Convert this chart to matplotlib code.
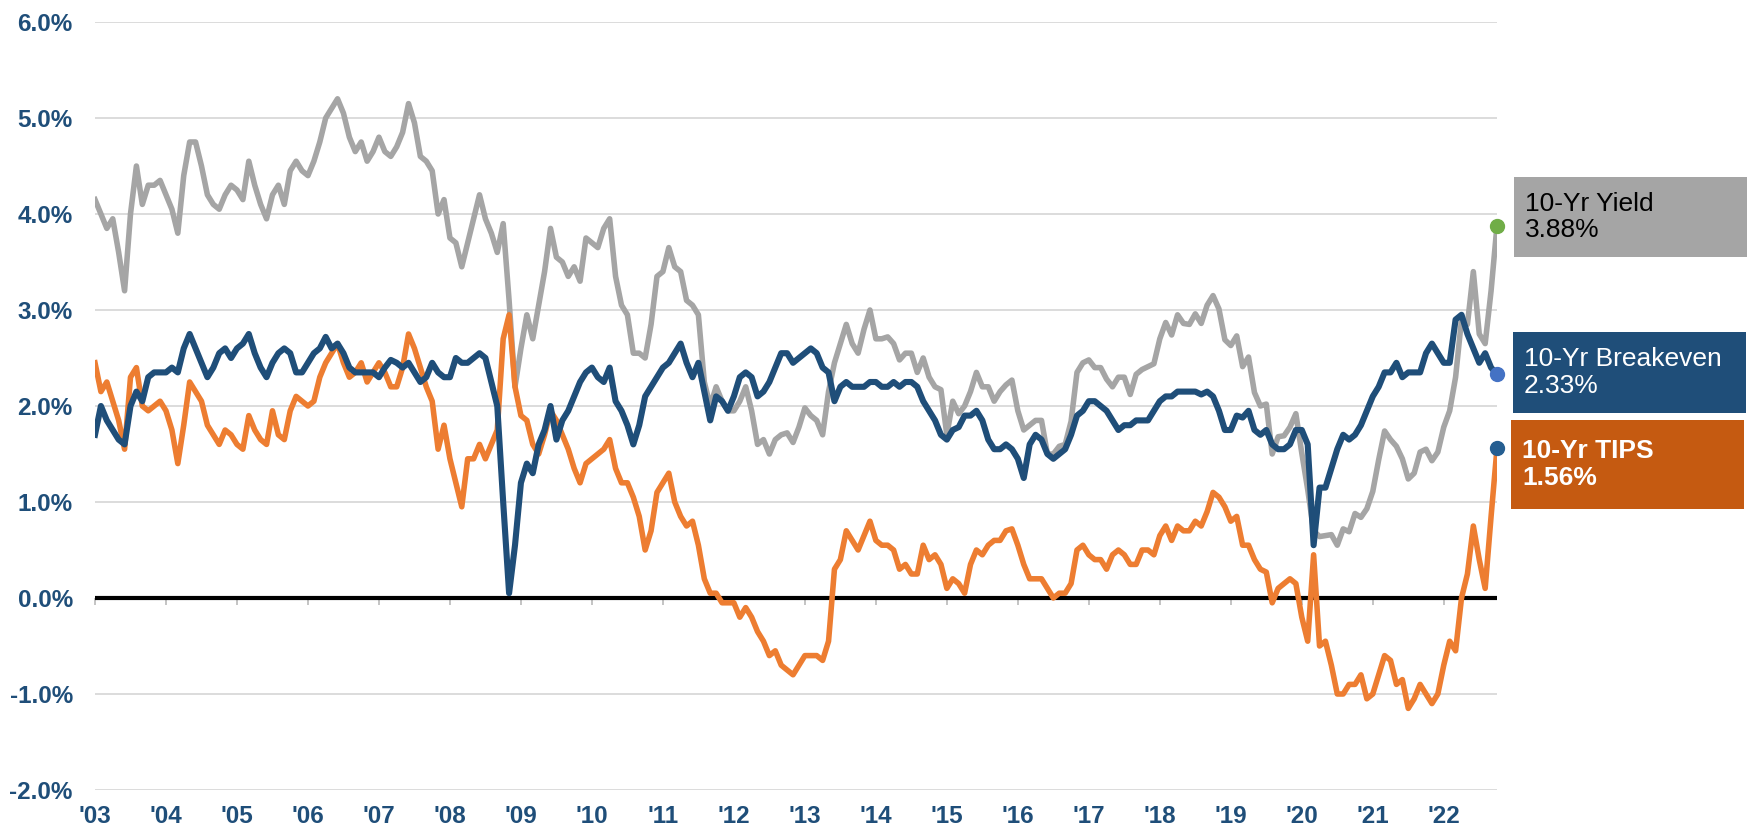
import numpy as np
import matplotlib
matplotlib.use("Agg")
import matplotlib.pyplot as plt
from matplotlib.patches import Rectangle

plt.rcParams['font.family'] = ['Liberation Sans', 'DejaVu Sans']

# monthly readings (%), Jan 2003 .. Oct 2022
start_year = 2003
years = list(range(2003, 2023))
year_labels = ["'%02d" % (y % 100) for y in years]
y_ticks = list(range(-2, 7))

yield_10y = [
    4.15, 4.00, 3.85, 3.95, 3.60, 3.20, 4.00, 4.50, 4.10, 4.30, 4.30, 4.35,  # 2003
    4.20, 4.05, 3.80, 4.40, 4.75, 4.75, 4.50, 4.20, 4.10, 4.05, 4.20, 4.30,  # 2004
    4.25, 4.15, 4.55, 4.30, 4.10, 3.95, 4.20, 4.30, 4.10, 4.45, 4.55, 4.45,  # 2005
    4.40, 4.55, 4.75, 5.00, 5.10, 5.20, 5.05, 4.80, 4.65, 4.75, 4.55, 4.65,  # 2006
    4.80, 4.65, 4.60, 4.70, 4.85, 5.15, 4.95, 4.60, 4.55, 4.45, 4.00, 4.15,  # 2007
    3.75, 3.70, 3.45, 3.70, 3.95, 4.20, 3.95, 3.80, 3.60, 3.90, 3.10, 2.20,  # 2008
    2.60, 2.95, 2.70, 3.05, 3.40, 3.85, 3.55, 3.50, 3.35, 3.45, 3.30, 3.75,  # 2009
    3.70, 3.65, 3.85, 3.95, 3.35, 3.05, 2.95, 2.55, 2.55, 2.50, 2.85, 3.35,  # 2010
    3.40, 3.65, 3.45, 3.40, 3.10, 3.05, 2.95, 2.25, 2.00, 2.20, 2.05, 1.95,  # 2011
    1.95, 2.05, 2.20, 1.95, 1.60, 1.65, 1.50, 1.65, 1.70, 1.72, 1.62, 1.78,  # 2012
    1.98, 1.90, 1.85, 1.70, 2.15, 2.45, 2.65, 2.85, 2.65, 2.55, 2.80, 3.00,  # 2013
    2.70, 2.70, 2.72, 2.65, 2.48, 2.55, 2.55, 2.35, 2.50, 2.30, 2.20, 2.17,  # 2014
    1.70, 2.05, 1.92, 2.00, 2.15, 2.35, 2.20, 2.20, 2.05, 2.15, 2.22, 2.27,  # 2015
    1.95, 1.75, 1.80, 1.85, 1.85, 1.50, 1.50, 1.58, 1.60, 1.84, 2.35, 2.45,  # 2016
    2.48, 2.40, 2.40, 2.28, 2.20, 2.30, 2.30, 2.12, 2.33, 2.38, 2.41, 2.44,  # 2017
    2.70, 2.87, 2.74, 2.95, 2.86, 2.85, 2.96, 2.86, 3.05, 3.15, 3.01, 2.69,  # 2018
    2.63, 2.73, 2.41, 2.51, 2.14, 2.00, 2.02, 1.50, 1.68, 1.69, 1.78, 1.92,  # 2019
    1.51, 1.13, 0.70, 0.64, 0.65, 0.66, 0.55, 0.72, 0.69, 0.88, 0.84, 0.93,  # 2020
    1.11, 1.44, 1.74, 1.65, 1.58, 1.45, 1.24, 1.30, 1.52, 1.55, 1.43, 1.52,  # 2021
    1.78, 1.95, 2.30, 2.90, 2.85, 3.40, 2.75, 2.65, 3.20, 3.88,              # 2022
]

breakeven_10y = [
    1.70, 2.00, 1.85, 1.75, 1.65, 1.60, 2.00, 2.15, 2.05, 2.30, 2.35, 2.35,
    2.35, 2.40, 2.35, 2.60, 2.75, 2.60, 2.45, 2.30, 2.40, 2.55, 2.60, 2.50,
    2.60, 2.65, 2.75, 2.55, 2.40, 2.30, 2.45, 2.55, 2.60, 2.55, 2.35, 2.35,
    2.45, 2.55, 2.60, 2.72, 2.60, 2.65, 2.55, 2.40, 2.35, 2.35, 2.35, 2.35,
    2.30, 2.40, 2.48, 2.45, 2.40, 2.45, 2.35, 2.25, 2.30, 2.45, 2.35, 2.30,
    2.30, 2.50, 2.45, 2.45, 2.50, 2.55, 2.50, 2.25, 2.00, 1.00, 0.05, 0.55,
    1.20, 1.40, 1.30, 1.60, 1.75, 2.00, 1.65, 1.85, 1.95, 2.10, 2.25, 2.35,
    2.40, 2.30, 2.25, 2.40, 2.05, 1.95, 1.80, 1.60, 1.80, 2.10, 2.20, 2.30,
    2.40, 2.45, 2.55, 2.65, 2.45, 2.30, 2.45, 2.15, 1.85, 2.10, 2.05, 1.95,
    2.10, 2.30, 2.35, 2.30, 2.10, 2.15, 2.25, 2.40, 2.55, 2.55, 2.45, 2.50,
    2.55, 2.60, 2.55, 2.40, 2.35, 2.05, 2.20, 2.25, 2.20, 2.20, 2.20, 2.25,
    2.25, 2.20, 2.20, 2.25, 2.20, 2.25, 2.25, 2.20, 2.05, 1.95, 1.85, 1.70,
    1.65, 1.75, 1.78, 1.90, 1.90, 1.95, 1.85, 1.65, 1.55, 1.55, 1.60, 1.55,
    1.45, 1.25, 1.60, 1.70, 1.65, 1.50, 1.45, 1.50, 1.55, 1.70, 1.90, 1.95,
    2.05, 2.05, 2.00, 1.95, 1.85, 1.75, 1.80, 1.80, 1.85, 1.85, 1.85, 1.95,
    2.05, 2.10, 2.10, 2.15, 2.15, 2.15, 2.15, 2.12, 2.15, 2.10, 1.95, 1.75,
    1.75, 1.90, 1.88, 1.95, 1.75, 1.70, 1.75, 1.60, 1.55, 1.55, 1.60, 1.75,
    1.75, 1.60, 0.55, 1.15, 1.15, 1.35, 1.55, 1.70, 1.65, 1.70, 1.80, 1.95,
    2.10, 2.20, 2.35, 2.35, 2.45, 2.30, 2.35, 2.35, 2.35, 2.55, 2.65, 2.55,
    2.45, 2.45, 2.90, 2.95, 2.75, 2.60, 2.45, 2.55, 2.40, 2.33,
]

tips_10y = [
    2.45, 2.15, 2.25, 2.05, 1.85, 1.55, 2.30, 2.40, 2.00, 1.95, 2.00, 2.05,
    1.95, 1.75, 1.40, 1.80, 2.25, 2.15, 2.05, 1.80, 1.70, 1.60, 1.75, 1.70,
    1.60, 1.55, 1.90, 1.75, 1.65, 1.60, 1.95, 1.70, 1.65, 1.95, 2.10, 2.05,
    2.00, 2.05, 2.30, 2.45, 2.55, 2.65, 2.45, 2.30, 2.35, 2.45, 2.25, 2.35,
    2.45, 2.35, 2.20, 2.20, 2.40, 2.75, 2.60, 2.40, 2.20, 2.05, 1.55, 1.80,
    1.45, 1.20, 0.95, 1.45, 1.45, 1.60, 1.45, 1.60, 1.75, 2.70, 2.95, 2.20,
    1.90, 1.85, 1.60, 1.50, 1.70, 1.95, 1.85, 1.70, 1.55, 1.35, 1.20, 1.40,
    1.45, 1.50, 1.55, 1.65, 1.35, 1.20, 1.20, 1.05, 0.85, 0.50, 0.70, 1.10,
    1.20, 1.30, 1.00, 0.85, 0.75, 0.80, 0.55, 0.20, 0.05, 0.05, -0.05, -0.05,
    -0.05, -0.20, -0.10, -0.20, -0.35, -0.45, -0.60, -0.55, -0.70, -0.75, -0.80, -0.70,
    -0.60, -0.60, -0.60, -0.65, -0.45, 0.30, 0.40, 0.70, 0.60, 0.50, 0.65, 0.80,
    0.60, 0.55, 0.55, 0.50, 0.30, 0.35, 0.25, 0.25, 0.55, 0.40, 0.45, 0.35,
    0.10, 0.20, 0.15, 0.05, 0.35, 0.50, 0.45, 0.55, 0.60, 0.60, 0.70, 0.72,
    0.55, 0.35, 0.20, 0.20, 0.20, 0.10, 0.00, 0.05, 0.05, 0.15, 0.50, 0.55,
    0.45, 0.40, 0.40, 0.30, 0.45, 0.50, 0.45, 0.35, 0.35, 0.50, 0.50, 0.45,
    0.65, 0.75, 0.60, 0.75, 0.70, 0.70, 0.80, 0.75, 0.90, 1.10, 1.05, 0.95,
    0.80, 0.85, 0.55, 0.55, 0.40, 0.30, 0.27, -0.05, 0.10, 0.15, 0.20, 0.15,
    -0.20, -0.45, 0.45, -0.50, -0.45, -0.70, -1.00, -1.00, -0.90, -0.90, -0.80, -1.05,
    -1.00, -0.80, -0.60, -0.65, -0.90, -0.85, -1.15, -1.05, -0.90, -1.00, -1.10, -1.00,
    -0.70, -0.45, -0.55, 0.00, 0.25, 0.75, 0.40, 0.10, 0.85, 1.56,
]

GRAY = '#A5A5A5'
NAVY = '#1F4E79'
ORANGE = '#ED7D31'
BOX_ORANGE = '#C55A11'

t = start_year + np.arange(len(yield_10y)) / 12.0

W, H = 1752, 831
fig = plt.figure(figsize=(W / 100, H / 100), dpi=100)
ax = fig.add_axes([95 / W, 1 - 790 / H, 1402 / W, 768 / H])

ax.plot(t, yield_10y, color=GRAY, lw=4.0, zorder=2.0, solid_joinstyle='round')
ax.plot(t, tips_10y, color=ORANGE, lw=4.0, zorder=2.1, solid_joinstyle='round')
ax.plot(t, breakeven_10y, color=NAVY, lw=4.4, zorder=2.2, solid_joinstyle='round')

# end-point dots
ax.plot(t[-1], yield_10y[-1], 'o', color='#70AD47', ms=10, zorder=5, clip_on=False)
ax.plot(t[-1], breakeven_10y[-1], 'o', color='#4472C4', ms=10, zorder=5, clip_on=False)
ax.plot(t[-1], tips_10y[-1], 'o', color='#255E91', ms=10, zorder=5, clip_on=False)

ax.axhline(0, color='black', lw=3, zorder=1.6)

ax.set_xlim(start_year, t[-1])
ax.set_ylim(y_ticks[0], y_ticks[-1])
for s in ax.spines.values():
    s.set_visible(False)

ax.set_yticks(y_ticks, labels=['%.1f%%' % v for v in y_ticks],
              fontsize=17.5, fontweight='bold', color=NAVY)
ax.tick_params(axis='y', length=0, pad=16)
ax.grid(axis='y', color='#D9D9D9', lw=1.3)
ax.set_axisbelow(True)

ax.set_xticks(years, labels=year_labels, fontsize=17.5, fontweight='bold', color=NAVY)
ax.tick_params(axis='x', length=0, pad=11)

# small year ticks hanging off the zero line
zero_pos = (0 - y_ticks[0]) / (y_ticks[-1] - y_ticks[0])
sec = ax.secondary_xaxis(zero_pos)
sec.set_xticks(years)
sec.tick_params(length=5, width=1.3, color='#BFBFBF', labelbottom=False, labeltop=False)
for s in sec.spines.values():
    s.set_visible(False)

# value boxes on the right
boxes = [
    (177, 257, 1514, GRAY, 'black', 'normal', '10-Yr Yield', yield_10y[-1]),
    (332, 413, 1513, NAVY, 'white', 'normal', '10-Yr Breakeven', breakeven_10y[-1]),
    (420, 509, 1511, BOX_ORANGE, 'white', 'bold', '10-Yr TIPS', tips_10y[-1]),
]
for top, bot, left, fc, tc, fw, name, val in boxes:
    fig.add_artist(Rectangle((left / W, 1 - bot / H), 233 / W, (bot - top) / H,
                             transform=fig.transFigure, facecolor=fc, edgecolor='none'))
    fig.text((left + 11) / W, 1 - (top + bot) / 2 / H, '%s\n%.2f%%' % (name, val),
             ha='left', va='center', fontsize=19, color=tc, fontweight=fw,
             linespacing=1.15)

fig.savefig('out.png', dpi=100)
